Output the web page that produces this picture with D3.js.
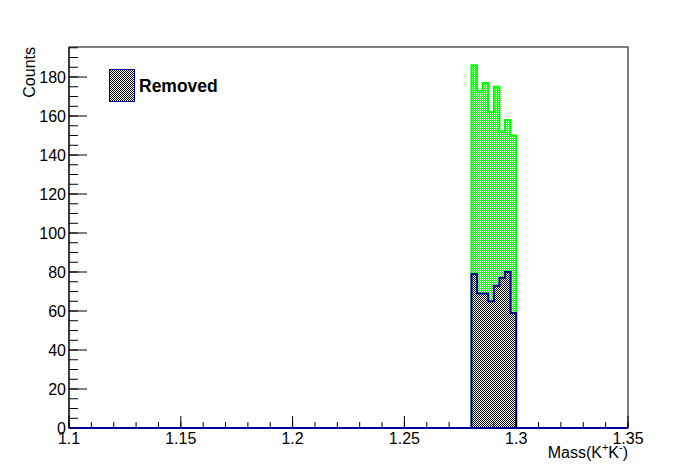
<!DOCTYPE html>
<html><head><meta charset="utf-8">
<script src="https://cdn.jsdelivr.net/npm/d3@7"></script>
<style>body{margin:0;background:#fff}svg{display:block}text{font-family:"Liberation Sans",Arial,sans-serif}</style>
</head><body>
<script>
// Data
const xDomain = [1.1, 1.35];
const yDomain = [0, 195.4];
const binEdges = [1.28, 1.2825, 1.285, 1.2875, 1.29, 1.2925, 1.295, 1.2975, 1.30];
const totalCounts = [186, 173, 177, 162, 175, 152, 158, 150];
const removedCounts = [79, 69, 69, 65, 73, 77, 80, 59];
const xTicks = [1.1, 1.15, 1.2, 1.25, 1.3, 1.35];
const xTickLabels = ["1.1", "1.15", "1.2", "1.25", "1.3", "1.35"];
const yTicks = [0, 20, 40, 60, 80, 100, 120, 140, 160, 180];
const legendLabel = "Removed";

const W = 698, H = 476;
const m = {l: 69, r: 70, t: 47, b: 48};
const svg = d3.select("body").append("svg").attr("width", W).attr("height", H);
const defs = svg.append("defs");
function checker(id, color) {
  const p = defs.append("pattern").attr("id", id).attr("width", 2).attr("height", 2)
    .attr("patternUnits", "userSpaceOnUse");
  p.append("rect").attr("width", 2).attr("height", 2).attr("fill", "#fff");
  p.append("rect").attr("x", 0).attr("y", 0).attr("width", 1).attr("height", 1).attr("fill", color);
  p.append("rect").attr("x", 1).attr("y", 1).attr("width", 1).attr("height", 1).attr("fill", color);
}
checker("pg", "#00ff00");
checker("pb", "#000000");

const x = d3.scaleLinear().domain(xDomain).range([m.l, W - m.r]);
const y = d3.scaleLinear().domain(yDomain).range([H - m.b, m.t]);

function histPath(vals) {
  let d = `M${x(xDomain[0])},${y(0)}L${x(binEdges[0])},${y(0)}`;
  vals.forEach((v, i) => {
    d += `L${x(binEdges[i])},${y(v)}L${x(binEdges[i + 1])},${y(v)}`;
  });
  d += `L${x(binEdges[binEdges.length - 1])},${y(0)}L${x(xDomain[1])},${y(0)}`;
  return d;
}
function histFill(vals) {
  let d = `M${x(binEdges[0])},${y(0)}`;
  vals.forEach((v, i) => { d += `L${x(binEdges[i])},${y(v)}L${x(binEdges[i + 1])},${y(v)}`; });
  d += `L${x(binEdges[binEdges.length - 1])},${y(0)}Z`;
  return d;
}

// frame
svg.append("rect").attr("x", x(xDomain[0])).attr("y", y(yDomain[1]))
  .attr("width", x(xDomain[1]) - x(xDomain[0])).attr("height", y(0) - y(yDomain[1]))
  .attr("fill", "none").attr("stroke", "#000").attr("stroke-width", 1);

// histograms
svg.append("path").attr("d", histFill(totalCounts)).attr("fill", "url(#pg)");
svg.append("path").attr("d", histPath(totalCounts)).attr("fill", "none").attr("stroke", "#00ff00").attr("stroke-width", 2);
svg.append("path").attr("d", histFill(removedCounts)).attr("fill", "url(#pb)");
svg.append("path").attr("d", histPath(removedCounts)).attr("fill", "none").attr("stroke", "#000099").attr("stroke-width", 2);

// x axis ticks
const xAx = svg.append("g");
const xMinor = d3.range(0, 26).map(i => xDomain[0] + i * 0.01);
xMinor.forEach(v => {
  xAx.append("line").attr("x1", x(v)).attr("x2", x(v)).attr("y1", y(0)).attr("y2", y(0) - 6).attr("stroke", "#000");
});
xTicks.forEach((v, i) => {
  xAx.append("line").attr("x1", x(v)).attr("x2", x(v)).attr("y1", y(0)).attr("y2", y(0) - 12).attr("stroke", "#000");
  xAx.append("text").attr("x", x(v)).attr("y", y(0) + 16).attr("text-anchor", "middle")
    .attr("font-size", 16).text(xTickLabels[i]);
});
// y axis
const yAx = svg.append("g");
svg.append("line").attr("x1", x(xDomain[0])).attr("x2", x(xDomain[0])).attr("y1", y(0)).attr("y2", y(yDomain[1])).attr("stroke", "#000");
d3.range(0, 196, 5).forEach(v => {
  yAx.append("line").attr("x1", m.l).attr("x2", m.l + 9).attr("y1", y(v)).attr("y2", y(v)).attr("stroke", "#000");
});
yTicks.forEach(v => {
  yAx.append("line").attr("x1", m.l).attr("x2", m.l + 18).attr("y1", y(v)).attr("y2", y(v)).attr("stroke", "#000");
  yAx.append("text").attr("x", m.l - 3).attr("y", y(v) + 6).attr("text-anchor", "end")
    .attr("font-size", 16).text(v);
});
// bottom line over ticks
svg.append("line").attr("x1", x(xDomain[0])).attr("x2", x(xDomain[1])).attr("y1", y(0)).attr("y2", y(0)).attr("stroke", "#000099").attr("stroke-width", 2);

// titles
svg.append("text").attr("transform", `translate(35,${m.t}) rotate(-90)`).attr("text-anchor", "end")
  .attr("font-size", 16).text("Counts");
const xt = svg.append("text").attr("x", x(xDomain[1])).attr("y", 458).attr("text-anchor", "end").attr("font-size", 16);
xt.append("tspan").text("Mass(K");
xt.append("tspan").attr("font-size", 11).attr("dy", -7).text("+");
xt.append("tspan").attr("dy", 7).text("K");
xt.append("tspan").attr("font-size", 11).attr("dy", -7).text("-");
xt.append("tspan").attr("dy", 7).text(")");

// legend
svg.append("rect").attr("x", 109.5).attr("y", 69.5).attr("width", 25).attr("height", 32)
  .attr("fill", "url(#pb)").attr("stroke", "#000099").attr("stroke-width", 1);
svg.append("text").attr("x", 139).attr("y", 92).attr("font-size", 17.5).attr("font-weight", "bold").text(legendLabel);
</script>
</body></html>
